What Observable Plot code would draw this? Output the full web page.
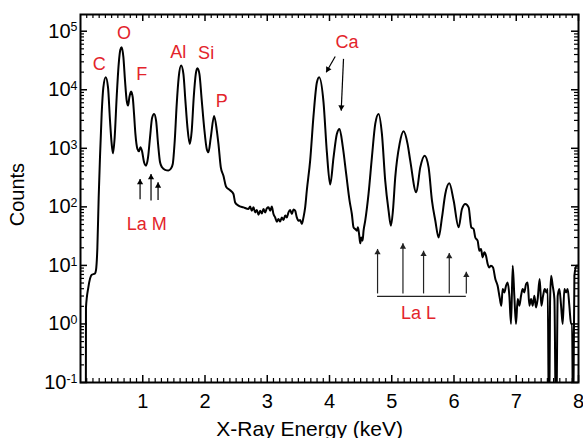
<!DOCTYPE html>
<html><head><meta charset="utf-8">
<script src="https://cdn.jsdelivr.net/npm/d3@7"></script>
<script src="https://cdn.jsdelivr.net/npm/@observablehq/plot@0.6"></script>
<style>body{margin:0;background:#fff} svg{display:block}</style>
</head><body><div id="chart"></div>
<script>
// Spectrum (keV, counts)
const energy = [
0.085,0.088,0.126,0.18,0.233,0.249,0.271,0.292,0.313,0.34,
0.367,0.405,0.442,0.474,0.501,0.522,0.549,0.581,0.614,0.64,
0.662,0.689,0.715,0.742,0.764,0.785,0.812,0.839,0.86,0.882,
0.914,0.94,0.962,0.989,1.021,1.053,1.085,1.117,1.15,1.182,
1.214,1.246,1.278,1.31,1.359,1.412,1.45,1.482,1.514,1.546,
1.578,1.616,1.653,1.685,1.718,1.755,1.787,1.819,1.852,1.878,
1.91,1.948,1.986,2.028,2.055,2.093,2.146,2.19,2.216,2.254,
2.296,2.339,2.404,2.457,2.484,2.537,2.618,2.698,2.725,2.752,
2.779,2.805,2.832,2.859,2.886,2.913,2.939,2.966,2.993,3.02,
3.047,3.073,3.1,3.127,3.154,3.18,3.207,3.234,3.261,3.288,
3.314,3.341,3.368,3.395,3.422,3.448,3.475,3.502,3.529,3.556,
3.582,3.609,3.636,3.69,3.743,3.797,3.834,3.904,3.958,4.011,
4.065,4.118,4.161,4.215,4.268,4.322,4.359,4.386,4.413,4.44,
4.457,4.478,4.494,4.51,4.531,4.547,4.574,4.627,4.681,4.735,
4.788,4.842,4.895,4.949,4.987,5.019,5.056,5.126,5.19,5.254,
5.297,5.394,5.458,5.528,5.592,5.646,5.7,5.753,5.807,5.86,
5.925,5.994,6.074,6.128,6.182,6.235,6.278,6.315,6.342,6.38,
6.407,6.434,6.46,6.487,6.514,6.541,6.567,6.594,6.627,6.664,
6.701,6.733,6.76,6.782,6.809,6.836,6.862,6.889,6.916,6.943,
6.969,6.996,7.023,7.05,7.077,7.103,7.13,7.157,7.183,7.211,
7.238,7.264,7.291,7.318,7.344,7.376,7.404,7.431,7.457,7.484,
7.505,7.527,7.543,7.56,7.585,7.613,7.64,7.666,7.693,7.72,
7.746,7.773,7.8,7.826,7.853,7.88,7.897,7.913,7.934,7.966,
7.99];
const counts = [
0.01,1.9,4.2,6.9,7.3,8.3,20,145,700,3870,
11000,16400,11000,2980,1190,822,1540,7450,27700,48100,
53200,36000,14400,6530,5370,7450,9300,7450,3870,1760,
977,889,1040,889,577,506,701,1540,3310,3870,
2980,1190,577,473,428,418,447,541,1355,5740,
16400,25900,18700,6530,2285,1190,2010,7450,18700,23300,
18700,6530,2285,977,855,1540,3580,2010,1190,473,
341,221,192,166,119,105,98,92,101,86,
98,80.5,88,73.6,86,77,92,80.5,94,98,
86,101,75.5,66,55.8,62,56,66,59.7,71,
66,80.5,88,75.5,90,86,66,58,59.7,51,
66,98,192,628,3580,13300,16400,6100,851,240,
703,1760,2140,1040,365,128,75.5,44.7,41.9,39.2,
44.7,32.2,23.8,30.1,26.4,39.2,58,166,701,2610,
3870,1760,281,86,47.7,86,319,1190,1950,1190,
617,177,473,750,473,128,58,30,66,166,
252,128,44.7,92,112,98,44.7,41.9,30,26.4,
17.8,19,13.7,16.7,14.6,10.6,9.25,9.9,9.25,5.85,
4.5,2.84,2.05,3.95,3.46,4.5,5.12,3.03,1.0,9.9,
3.03,1.0,2.66,2.05,3.03,3.95,3.46,4.8,5.12,2.05,
2.66,2.05,3.03,1.91,2.66,5.85,2.05,3.03,3.95,3.46,
3.95,0.01,2.33,6.67,4.5,2.66,0.01,3.03,3.95,2.05,
1.0,3.95,3.46,3.95,2.05,1.0,1.0,0.01,6.67,9.9,
9.9];

// Axis ticks
const xTicks = [1,2,3,4,5,6,7,8];
const yTicks = [0.1,1,10,100,1000,10000,100000];
const yTickLabels = ["10^-1","10^0","10^1","10^2","10^3","10^4","10^5"];

// Axis titles and where they sit
const xTitle = "X-Ray Energy (keV)", xTitleX = 3.68, xTitleY = 0.0162;
const yTitle = "Counts", yTitleX = -1.005, yTitleY = 162;

// Peak labels (red)
const peakNames = ["C","O","F","Al","Si","P","Ca","La M","La L"];
const peakLabelX = [0.302,0.699,0.984,1.572,2.018,2.27,4.28,1.064,5.431];
const peakLabelY = [27700,91400,18200,43700,42100,6350,64900,49.7,1.51];

// Ca arrows
const caX1 = [4.092,4.225], caY1 = [37000,33700];
const caX2 = [3.947,4.188], caY2 = [19900,4400];
// La M arrows
const laMX = [0.957,1.133,1.246], laMBase = [135,128,131], laMTip = [300,365,262];
// La L arrows
const laLX = [4.772,5.18,5.511,5.924,6.198], laLBase = 3.32, laLTip = [19.1,23.8,17.8,16.3,7.8];
const laLBarY = 2.95;

const red = "#e3242b";
const data = energy.map((e,i)=>({e, c: counts[i]}));
const minorX = d3.range(0, 80).map(i=>i/10).filter(v=>Math.abs(v-Math.round(v))>1e-6);
const minorY = [];
for (let k=-1;k<=4;k++) for (let m=2;m<=9;m++) minorY.push(m*Math.pow(10,k));

const W=583,H=438,ML=80,MR=5,MT=14,MB=56;
const FW=W-ML-MR, FH=H-MT-MB;
const headR = 2.3, headOff = 2*Math.sqrt(Math.PI*headR*headR/(3*Math.sqrt(3)));

const upArrows = [
  ...laMX.map((x,i)=>({x, y1: laMBase[i], y2: laMTip[i], c: "#000"})),
  ...laLX.map((x,i)=>({x, y1: laLBase, y2: laLTip[i], c: "#222"}))
];

const plot = Plot.plot({
  width: W, height: H,
  marginLeft: ML, marginRight: MR, marginTop: MT, marginBottom: MB,
  style: {fontFamily: "'Liberation Sans', Arial, Helvetica, sans-serif", background: "#fff", color: "#000", overflow: "visible"},
  x: {domain: [0, 8]},
  y: {type: "log", domain: [0.1, 1.93e5]},
  marks: [
    Plot.line(data, {x: "e", y: "c", stroke: "#000", strokeWidth: 2, curve: "monotone-x", clip: true}),
    // inward ticks bottom/top
    Plot.ruleX(xTicks, {x: d=>d, insetTop: FH-7, stroke: "#000", strokeWidth: 1.5}),
    Plot.ruleX(minorX, {x: d=>d, insetTop: FH-4, stroke: "#000", strokeWidth: 1.2}),
    Plot.ruleX(xTicks, {x: d=>d, insetBottom: FH-7, stroke: "#000", strokeWidth: 1.5}),
    Plot.ruleX(minorX, {x: d=>d, insetBottom: FH-4, stroke: "#000", strokeWidth: 1.2}),
    // inward ticks left/right
    Plot.ruleY(yTicks, {y: d=>d, insetRight: FW-7, stroke: "#000", strokeWidth: 1.5}),
    Plot.ruleY(minorY, {y: d=>d, insetRight: FW-4, stroke: "#000", strokeWidth: 1.2}),
    Plot.ruleY(yTicks, {y: d=>d, insetLeft: FW-7, stroke: "#000", strokeWidth: 1.5}),
    Plot.ruleY(minorY, {y: d=>d, insetLeft: FW-4, stroke: "#000", strokeWidth: 1.2}),
    Plot.frame({stroke: "#000", strokeWidth: 2}),
    Plot.axisX({ticks: xTicks, tickSize: 0, tickPadding: 11, fontSize: 20, label: null, tickFormat: d=>String(d)}),
    Plot.axisY({ticks: yTicks, tickSize: 0, tickPadding: 3, fontSize: 20, label: null, tickFormat: d=>yTickLabels[yTicks.indexOf(d)]}),
    Plot.text([yTitle], {x: [yTitleX], y: [yTitleY], rotate: -90, fontSize: 20, text: d=>d}),
    Plot.text([xTitle], {x: [xTitleX], y: [xTitleY], fontSize: 21, text: d=>d}),
    // annotations
    Plot.text(peakNames, {x: peakLabelX, y: peakLabelY, text: d=>d, fill: red, fontSize: 18}),
    // Ca arrows (shaft + filled head)
    Plot.link(caX1, {x1: caX1, y1: caY1, x2: caX2, y2: caY2, stroke: "#000", strokeWidth: 1.2}),
    Plot.dot([0], {x: [caX2[0]], y: [caY2[0]], symbol: "triangle", r: headR, fill: "#000", rotate: 210, dx: 1.7, dy: -2.97}),
    Plot.dot([0], {x: [caX2[1]], y: [caY2[1]], symbol: "triangle", r: headR, fill: "#000", rotate: 182.5, dx: 0.15, dy: -3.4}),
    // vertical up arrows
    Plot.link(upArrows, {x1: "x", x2: "x", y1: "y1", y2: "y2", stroke: "c", strokeWidth: 1.2}),
    Plot.dot(upArrows, {x: "x", y: "y2", symbol: "triangle", r: headR, fill: "c", stroke: null, dy: headOff}),
    Plot.ruleY([laLBarY], {x1: laLX[0], x2: laLX[laLX.length-1], y: d=>d, stroke: "#222", strokeWidth: 1.2})
  ]
});
document.getElementById("chart").appendChild(plot);

// render superscripts in y tick labels
const NS = "http://www.w3.org/2000/svg";
plot.querySelectorAll('g[aria-label="y-axis tick label"] text').forEach(t => {
  const s = t.textContent;
  if (!s.includes("^")) return;
  const [base, exp] = s.split("^");
  t.textContent = "";
  const b = document.createElementNS(NS, "tspan"); b.textContent = base;
  const e = document.createElementNS(NS, "tspan"); e.textContent = exp;
  e.setAttribute("dy", "-0.5em"); e.setAttribute("font-size", "0.62em");
  t.appendChild(b); t.appendChild(e);
});
</script>
</body></html>
